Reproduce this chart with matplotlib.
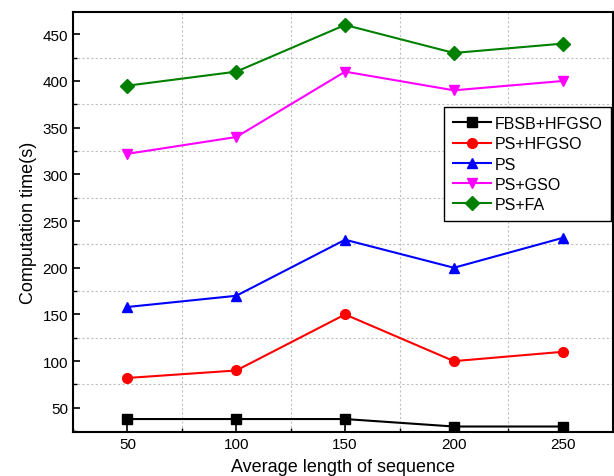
import numpy as np
import matplotlib
matplotlib.use("Agg")
from matplotlib import pyplot as plt
from matplotlib.ticker import MultipleLocator

plt.rcParams['font.family'] = ['Liberation Sans', 'DejaVu Sans']

# data
lengths = [50, 100, 150, 200, 250]
fbsb_hfgso = [38, 38, 38, 30, 30]
ps_hfgso = [82, 90, 150, 100, 110]
ps = [158, 170, 230, 200, 232]
ps_gso = [322, 340, 410, 390, 400]
ps_fa = [395, 410, 460, 430, 440]

series = [
    ("FBSB+HFGSO", fbsb_hfgso, "black", "s"),
    ("PS+HFGSO", ps_hfgso, "red", "o"),
    ("PS", ps, "blue", "^"),
    ("PS+GSO", ps_gso, "magenta", "v"),
    ("PS+FA", ps_fa, "green", "D"),
]

fig = plt.figure(figsize=(6.14, 4.77), dpi=100)
ax = fig.add_axes([0.119, 0.092, 0.879, 0.881])

for name, vals, col, mk in series:
    ax.plot(lengths, vals, color=col, marker=mk, markersize=7, linewidth=1.5, label=name)

ax.set_xlim(25, 273)
ax.set_ylim(24, 474)
ax.xaxis.set_major_locator(MultipleLocator(50))
ax.xaxis.set_minor_locator(MultipleLocator(25))
ax.yaxis.set_major_locator(MultipleLocator(50))
ax.yaxis.set_minor_locator(MultipleLocator(25))
ax.set_yticks(np.arange(50, 451, 50))
ax.grid(which='minor', linestyle=(0, (2, 2)), color='#c0c0c0', linewidth=0.8)
ax.grid(which='major', visible=False)
ax.tick_params(which='major', direction='in', length=5, width=1.2, labelsize=11)
ax.tick_params(which='minor', direction='in', length=3, width=1.0)
for s in ax.spines.values():
    s.set_linewidth(1.5)

ax.set_xlabel("Average length of sequence", fontsize=13, labelpad=5)
ax.set_ylabel("Computation time(s)", fontsize=13, labelpad=4)

leg = ax.legend(loc='upper right', bbox_to_anchor=(1.0, 0.777), fontsize=11.5,
                fancybox=False, edgecolor='black', framealpha=1, borderaxespad=0.1,
                handlelength=2.4, handletextpad=0.2, borderpad=0.55, labelspacing=0.33)
leg.get_frame().set_linewidth(1.0)

fig.savefig("out.png", dpi=100)
